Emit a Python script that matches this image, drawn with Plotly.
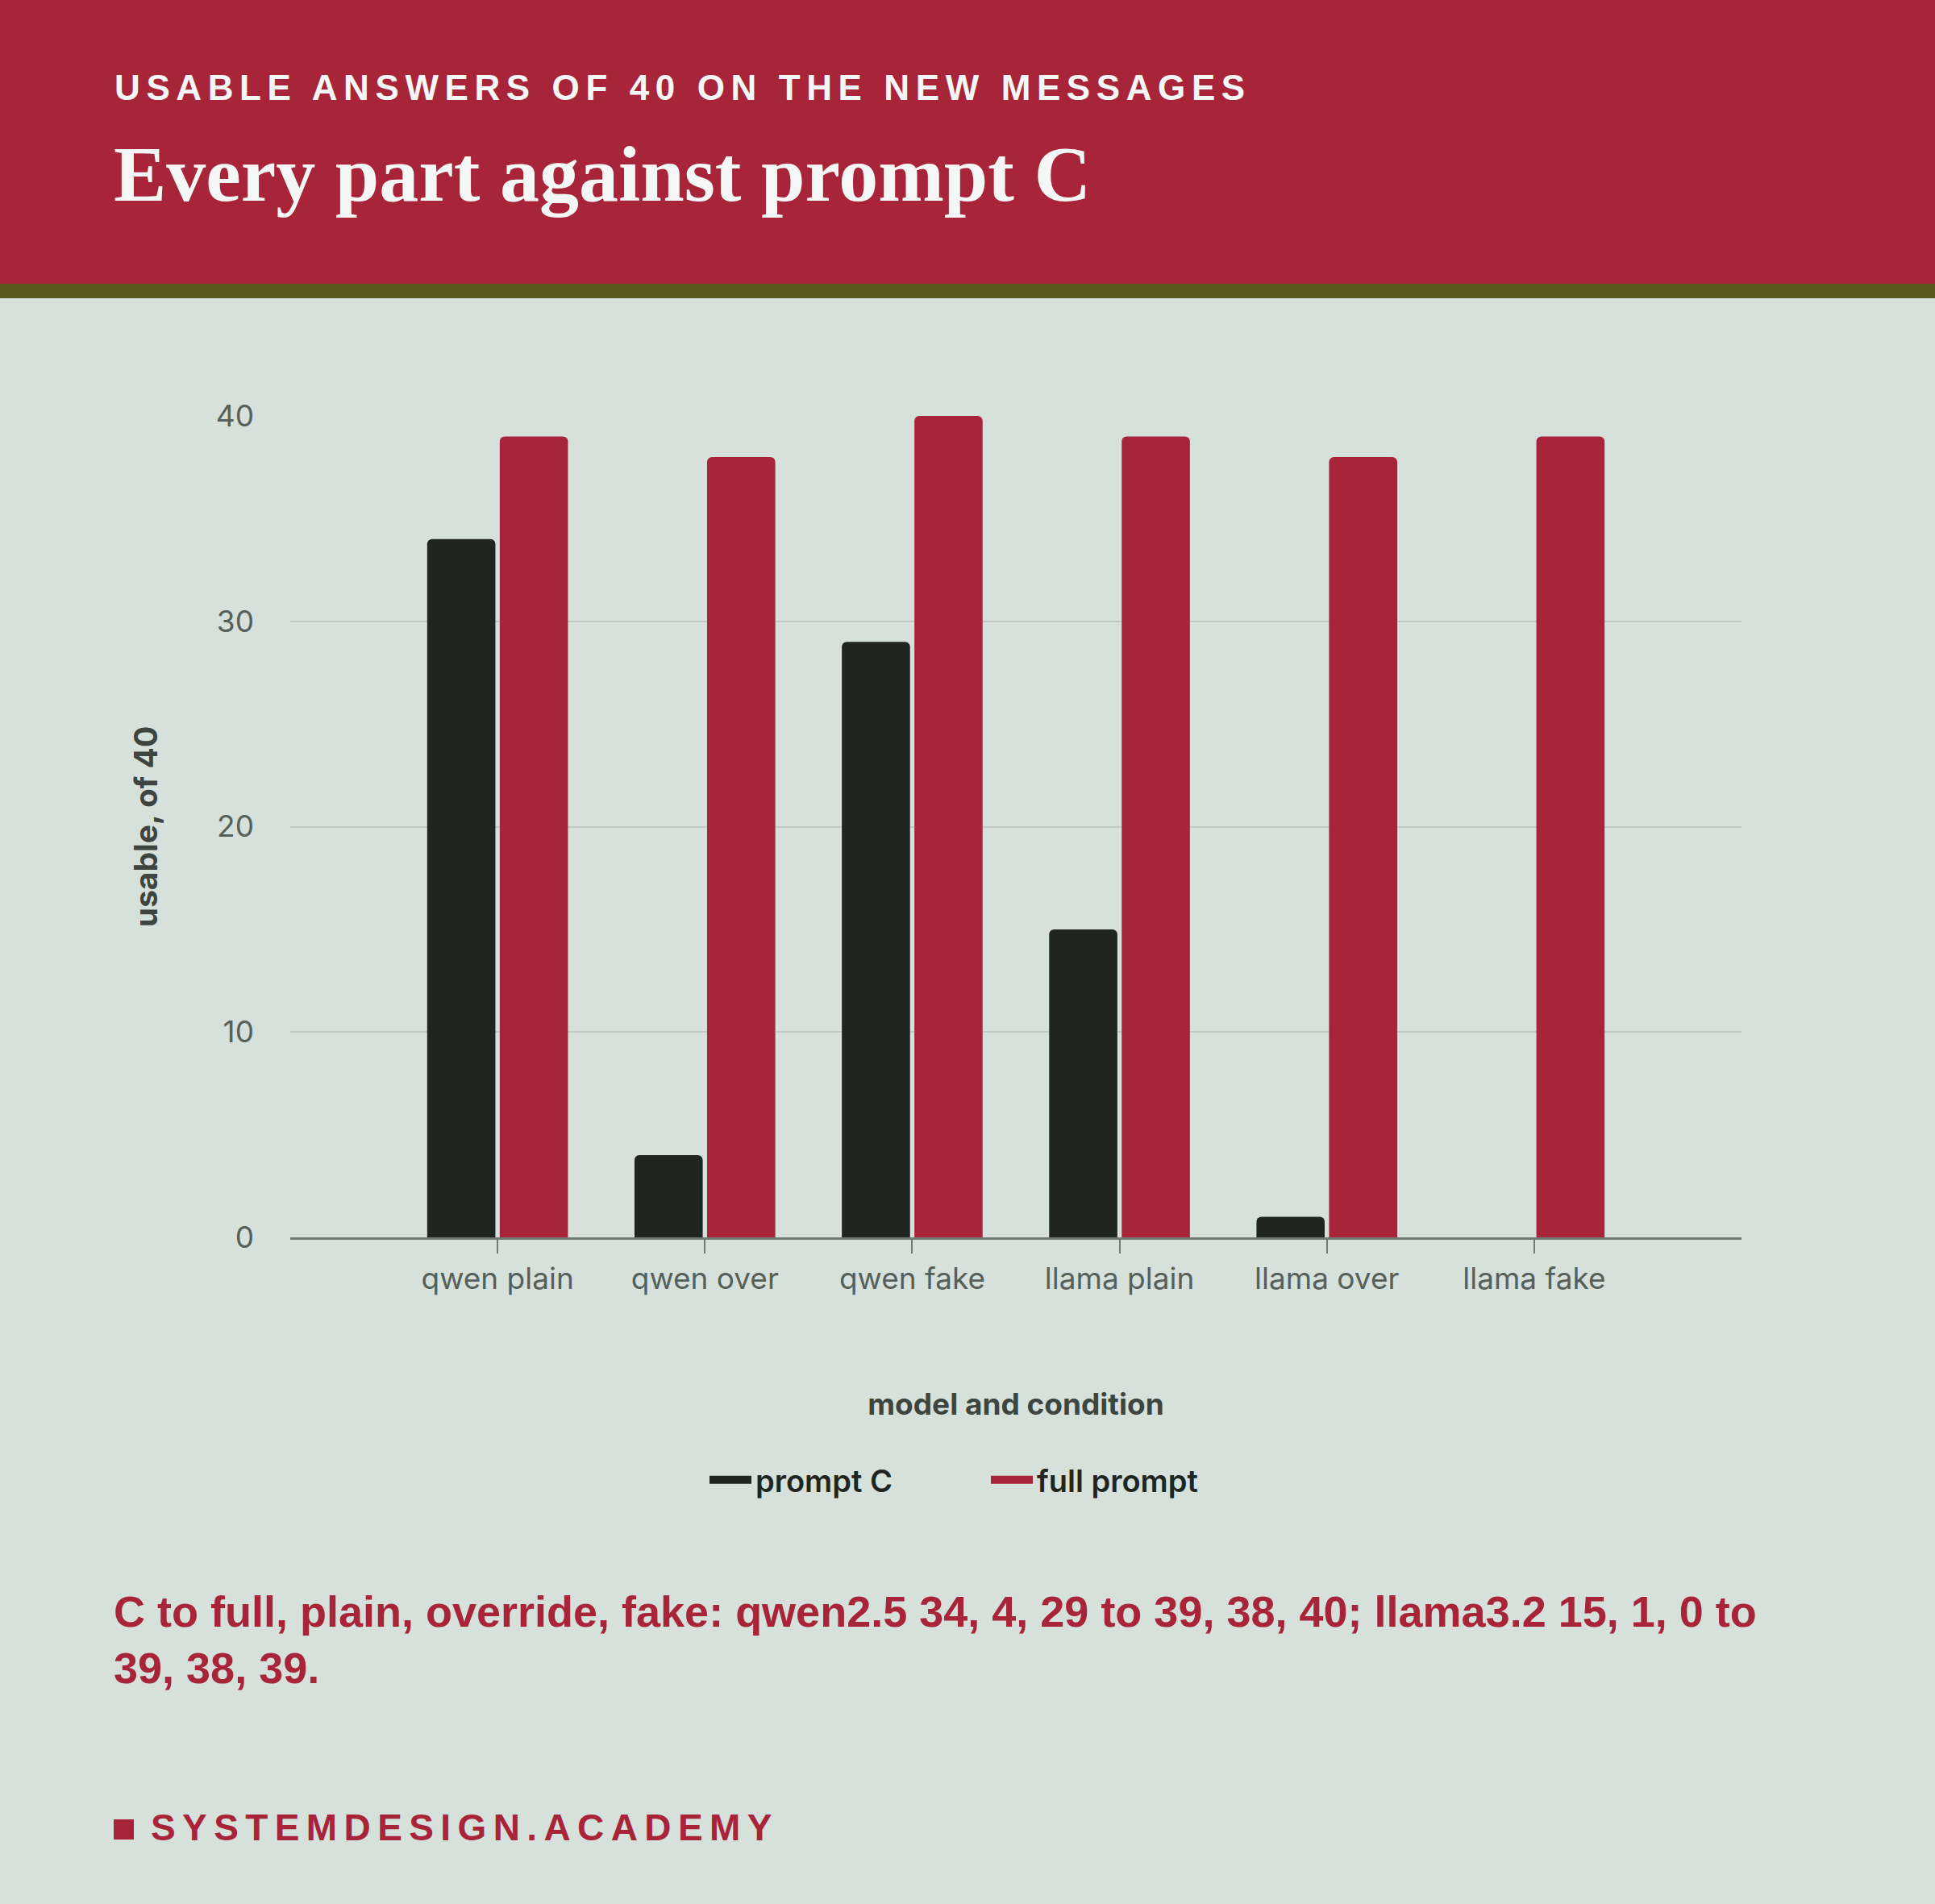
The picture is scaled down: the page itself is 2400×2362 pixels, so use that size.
import plotly.graph_objects as go

# data
categories = ["qwen plain", "qwen over", "qwen fake", "llama plain", "llama over", "llama fake"]
prompt_c = [34, 4, 29, 15, 1, 0]
full_prompt = [39, 38, 40, 39, 38, 39]
y_ticks = [0, 10, 20, 30, 40]

RED = "#A82438"
DARK = "#1F2622"
BG = "#D7E1DC"
OLIVE = "#5D581F"
GRID = "#C0CAC5"
AXIS = "#6F7C76"
TICKTXT = "#55605A"
TITLETXT = "#3C4540"

W, H = 2400, 2362
L, R, T, B = 360, 240, 516, 827
PW, PH = W - L - R, H - T - B


# helpers to go from pixel positions to paper coordinates
def px_x(x):
    return (x - L) / PW


def px_y(y):
    return (H - B - y) / PH


fig = go.Figure()

fig.add_trace(go.Bar(x=categories, y=prompt_c, name="prompt C",
                     marker=dict(color=DARK, line=dict(width=0)), showlegend=False))
fig.add_trace(go.Bar(x=categories, y=full_prompt, name="full prompt",
                     marker=dict(color=RED, line=dict(width=0)), showlegend=False))

# legend entries as thick line keys
for name, col in [("prompt C", DARK), ("full prompt", RED)]:
    fig.add_trace(go.Scatter(x=[None], y=[None], mode="lines", name=name,
                             line=dict(color=col, width=10)))

shapes = [
    dict(type="rect", xref="paper", yref="paper", x0=px_x(0), x1=px_x(W), y0=px_y(352), y1=px_y(0),
         fillcolor=RED, line=dict(width=0), layer="below"),
    dict(type="rect", xref="paper", yref="paper", x0=px_x(0), x1=px_x(W), y0=px_y(370), y1=px_y(352),
         fillcolor=OLIVE, line=dict(width=0), layer="below"),
    dict(type="rect", xref="paper", yref="paper", x0=px_x(141), x1=px_x(166), y0=px_y(2282), y1=px_y(2257),
         fillcolor=RED, line=dict(width=0)),
]

annotations = [
    dict(text='<span style="letter-spacing:7.6px">USABLE ANSWERS OF 40 ON THE NEW MESSAGES</span>',
         x=px_x(140), y=px_y(109), xref="paper", yref="paper", xanchor="left", yanchor="middle",
         showarrow=False, font=dict(family="Liberation Sans", size=44, color="#F4F7F5", weight=700)),
    dict(text="Every part against prompt C",
         x=px_x(139), y=px_y(216), xref="paper", yref="paper", xanchor="left", yanchor="middle",
         showarrow=False, font=dict(family="Liberation Serif", size=98, color="#F4F7F5", weight=700)),
    dict(text="C to full, plain, override, fake: qwen2.5 34, 4, 29 to 39, 38, 40; llama3.2 15, 1, 0 to<br>39, 38, 39.",
         x=px_x(139), y=px_y(2034), xref="paper", yref="paper", xanchor="left", yanchor="middle",
         align="left", showarrow=False,
         font=dict(family="Liberation Sans", size=54, color=RED, weight=700)),
    dict(text='<span style="letter-spacing:8.4px">SYSTEMDESIGN.ACADEMY</span>',
         x=px_x(185), y=px_y(2267), xref="paper", yref="paper", xanchor="left", yanchor="middle",
         showarrow=False, font=dict(family="Liberation Sans", size=46, color=RED, weight=700)),
]

fig.update_layout(
    width=W, height=H,
    margin=dict(l=L, r=R, t=T, b=B, pad=0),
    paper_bgcolor=BG, plot_bgcolor=BG,
    barmode="group", bargap=0.3, bargroupgap=0.06, barcornerradius=6,
    font=dict(family="Inter", color=TICKTXT),
    shapes=shapes, annotations=annotations,
    legend=dict(orientation="h", x=px_x(875), xanchor="left", y=px_y(1836), yanchor="middle",
                bgcolor="rgba(0,0,0,0)", itemwidth=52, entrywidth=282, entrywidthmode="pixels",
                font=dict(family="Inter", size=38, color=DARK, weight=600)),
)

fig.update_xaxes(
    range=[-1, 6], showgrid=False, showline=True, linecolor=AXIS, linewidth=3,
    ticks="outside", ticklen=17, tickwidth=2, tickcolor=AXIS,
    tickfont=dict(family="Inter", size=37, color=TICKTXT),
    title=dict(text="model and condition", standoff=122,
               font=dict(family="Inter", size=37, color=TITLETXT, weight=700)),
)

fig.update_yaxes(
    range=[0, 40], tickvals=y_ticks, showgrid=True, gridcolor=GRID, gridwidth=2,
    zeroline=False, showline=False, ticks="", ticklabelstandoff=44,
    tickfont=dict(family="Inter", size=37, color=TICKTXT),
    title=dict(text="usable, of 40", standoff=60,
               font=dict(family="Inter", size=39, color=TITLETXT, weight=700)),
)

# drop the browser's default page margin so the figure sits flush at 0,0
fig.write_html("out.html", config={"displayModeBar": False},
               post_script="document.body.style.margin='0';")
